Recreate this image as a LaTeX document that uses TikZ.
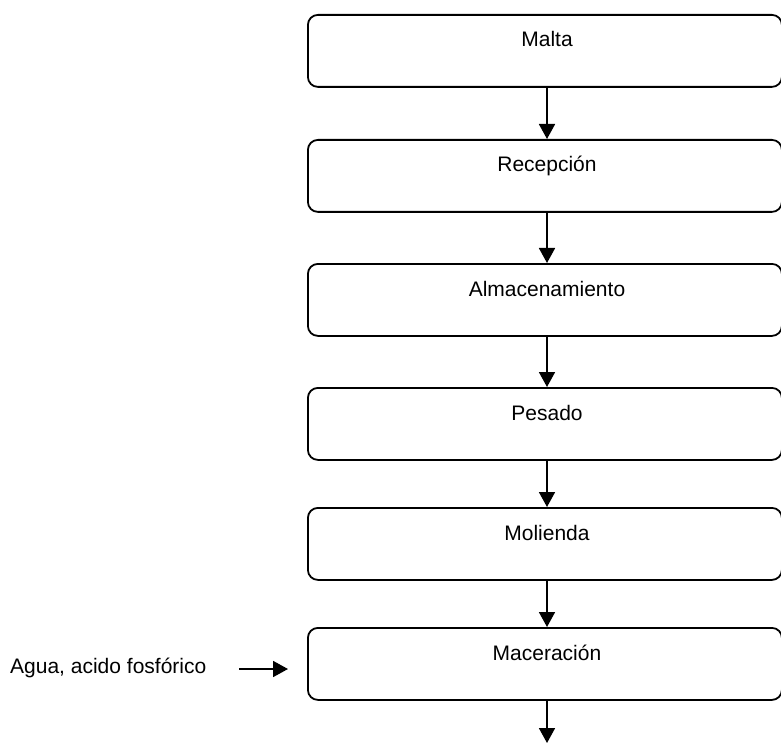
\documentclass[tikz,border=0pt]{standalone}
\usepackage{fontspec}
\setmainfont{Liberation Sans}
\usetikzlibrary{arrows.meta}
\begin{document}
\begin{tikzpicture}[x=1pt,y=-1pt,
  procbox/.style={draw, line width=1.8pt, rounded corners=10pt, minimum width=474pt, minimum height=72pt, inner sep=0pt, anchor=north west},
  lbl/.style={font=\fontsize{21}{24}\selectfont, anchor=base, inner sep=0pt},
  flow/.style={line width=1.8pt, -{Triangle[length=15pt,width=16pt]}}]
\useasboundingbox (0,0) rectangle (781,743);
\node[procbox] (b1) at (307,14) {};
\node[procbox] (b2) at (307,139) {};
\node[procbox] (b3) at (307,263) {};
\node[procbox] (b4) at (307,387) {};
\node[procbox] (b5) at (307,507) {};
\node[procbox] (b6) at (307,627) {};
\node[lbl] (t1) at (547,47) {Malta};
\node[lbl] (t2) at (547,172) {Recepción};
\node[lbl] (t3) at (547,296) {Almacenamiento};
\node[lbl] (t4) at (547,420) {Pesado};
\node[lbl] (t5) at (547,540) {Molienda};
\node[lbl] (t6) at (547,660) {Maceración};
\node[lbl, anchor=base west] (agua) at (10,673) {Agua, acido fosfórico};
\coordinate (a0) at (239,669);
\coordinate (a1) at (288,669);
\coordinate (e) at (547,743);
\draw[flow] (b1.south -| t1) -- (b2.north -| t1);
\draw[flow] (b2.south -| t1) -- (b3.north -| t1);
\draw[flow] (b3.south -| t1) -- (b4.north -| t1);
\draw[flow] (b4.south -| t1) -- (b5.north -| t1);
\draw[flow] (b5.south -| t1) -- (b6.north -| t1);
\draw[flow] (b6.south -| t1) -- (e);
\draw[flow] (a0) -- (a1);
\end{tikzpicture}
\end{document}
